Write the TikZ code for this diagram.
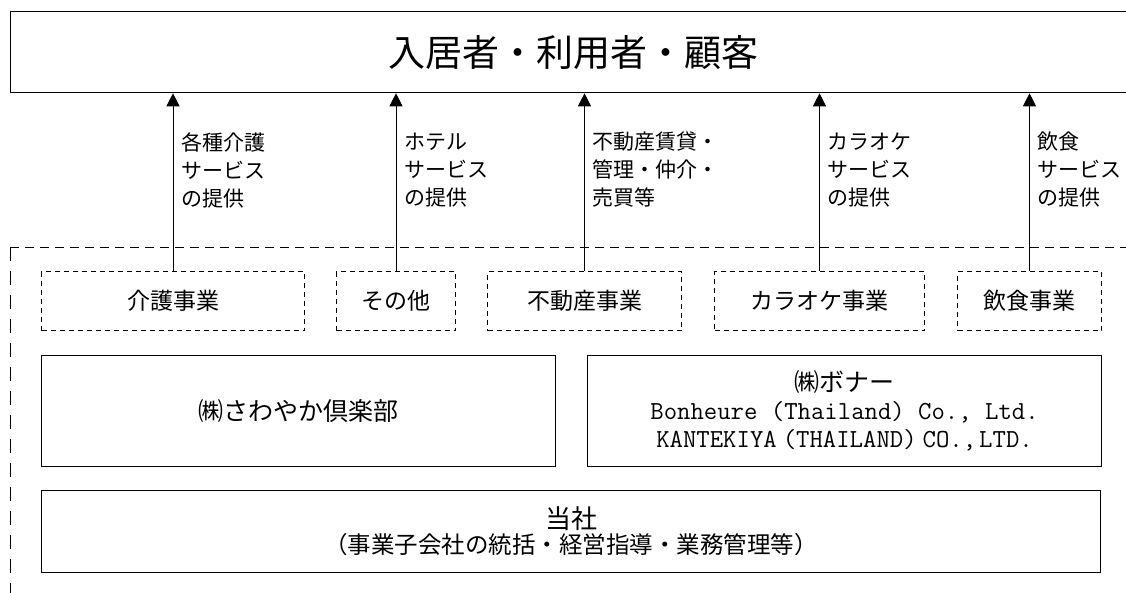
\documentclass[tikz,border=0pt]{standalone}
\usepackage{fontspec}
\setmainfont{Noto Sans CJK JP}
\newcommand\latline{\ttfamily\addfontfeatures{FakeStretch=0.82}\fontsize{26}{28}\selectfont}
\usetikzlibrary{arrows.meta}
\begin{document}
\begin{tikzpicture}[x=1pt,y=-1pt,
  topbox/.style={draw, line width=1.3pt, rectangle, anchor=north west, inner sep=0pt, font=\fontsize{37}{40}\selectfont},
  bizbox/.style={draw, line width=1pt, dash pattern=on 5pt off 4pt, rectangle, anchor=north west, inner sep=0pt, font=\fontsize{23}{28}\selectfont},
  cobox/.style={draw, line width=1.1pt, rectangle, anchor=north west, inner sep=0pt, align=center, font=\fontsize{25}{28}\selectfont},
  svc/.style={anchor=west, align=left, inner sep=0pt, font=\fontsize{21}{28}\selectfont},
  arr/.style={line width=1pt, -{Triangle[width=13pt,length=13pt]}},
  outer/.style={line width=1pt, dash pattern=on 9pt off 6pt}]
\useasboundingbox (0,0) rectangle (1126,592);
% top box
\node[topbox, minimum width=1125pt, minimum height=81pt] (top) at (10,11) {入居者・利用者・顧客};
% outer dashed region
\draw[outer] (10,247) -- (1135,247);
\draw[line width=1pt, dash pattern=on 14pt off 10pt] (10,247) -- (10,600);
% business boxes
\node[bizbox, minimum width=263pt, minimum height=59pt] (kaigo) at (41,271) {介護事業};
\node[bizbox, minimum width=119pt, minimum height=59pt] (sonota) at (336,271) {その他};
\node[bizbox, minimum width=194pt, minimum height=59pt] (fudo) at (487,271) {不動産事業};
\node[bizbox, minimum width=210pt, minimum height=59pt] (kara) at (714,271) {カラオケ事業};
\node[bizbox, minimum width=144pt, minimum height=59pt] (inshoku) at (957,271) {飲食事業};
% arrows
\draw[arr] (kaigo.north) -- (kaigo.north |- top.south);
\draw[arr] (sonota.north) -- (sonota.north |- top.south);
\draw[arr] (fudo.north) -- (fudo.north |- top.south);
\draw[arr] (kara.north) -- (kara.north |- top.south);
\draw[arr] (inshoku.north) -- (inshoku.north |- top.south);
% service labels
\node[svc] (l1) at ([xshift=8pt]kaigo.north |- 0,170) {各種介護\\サービス\\の提供};
\node[svc] (l2) at ([xshift=8pt]sonota.north |- 0,170) {ホテル\\サービス\\の提供};
\node[svc] (l3) at ([xshift=8pt]fudo.north |- 0,170) {不動産賃貸・\\管理・仲介・\\売買等};
\node[svc] (l4) at ([xshift=8pt]kara.north |- 0,170) {カラオケ\\サービス\\の提供};
\node[svc] (l5) at ([xshift=8pt]inshoku.north |- 0,170) {飲食\\サービス\\の提供};
% company boxes
\node[cobox, minimum width=514pt, minimum height=111pt] (sawa) at (41,355) {㈱さわやか倶楽部};
\node[cobox, minimum width=514pt, minimum height=111pt] (bonar) at (587,355) {㈱ボナー\\{\latline Bonheure (Thailand) Co., Ltd.}\\{\latline KANTEKIYA\kern6pt(THAILAND)\kern6pt CO.,\kern3pt LTD.}};
% parent
\node[cobox, minimum width=1059pt, minimum height=82pt] (tosha) at (41,490) {{\fontsize{26}{30}\selectfont 当社}\\[-3pt]{\fontsize{23.5}{28}\selectfont （事業子会社の統括・経営指導・業務管理等）}};
\end{tikzpicture}
\end{document}
